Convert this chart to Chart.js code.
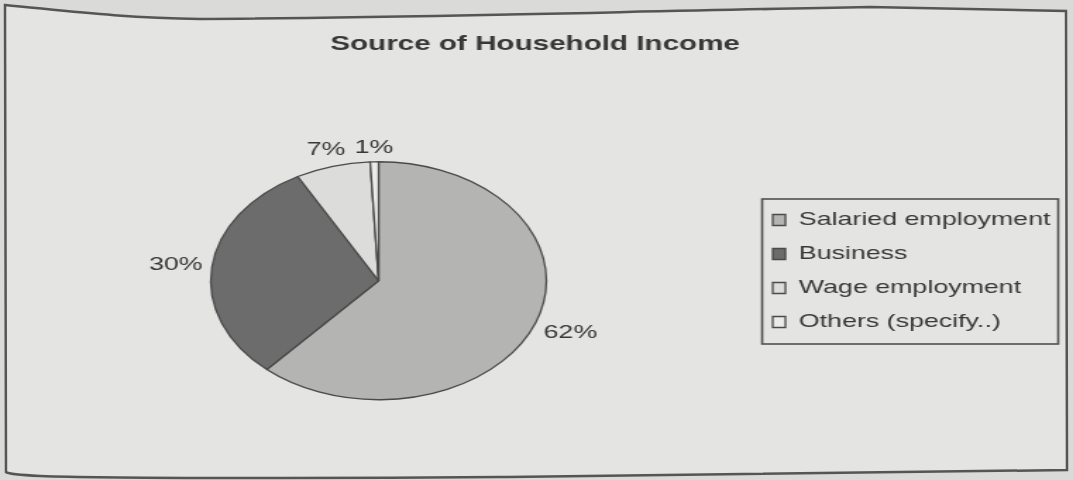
<!DOCTYPE html>
<html><head><meta charset="utf-8">
<script src="https://cdn.jsdelivr.net/npm/chart.js@4.4.0/dist/chart.umd.min.js"></script>
<style>
html,body{margin:0;padding:0;background:#dadad8;overflow:hidden;width:1073px;height:480px;}
#frame{position:absolute;left:0;top:0;}
#wrap{position:absolute;left:0;top:0;width:761px;height:480px;transform:scaleX(1.41);transform-origin:0 0;}
</style></head><body>
<svg id="frame" width="1073" height="480">
<path d="M5,5 C60,10 120,18 200,19 C400,18 600,12 870,7 L1066,11 L1067,470 C900,471 700,474 500,477 C300,479 100,478 40,476 C20,475 8,474 6,472 Z" fill="#e4e4e2" stroke="#555" stroke-width="2.5"/>
</svg>
<div id="wrap"><canvas id="c" width="761" height="480"></canvas></div>
<script>
const titleText = 'Source of Household Income';
const categories = ['Salaried employment', 'Business', 'Wage employment', 'Others (specify..)'];
const shares = [61.6, 30.4, 7.2, 0.8];
const sliceColors = ['#b4b4b2', '#6c6c6c', '#dcdcda', '#ebebe9'];

const textColor = '#383838';
const fontFamily = '"Liberation Sans", Arial, sans-serif';

const pctLabels = {
  id: 'pctLabels',
  afterDatasetsDraw(chart) {
    const ctx = chart.ctx;
    const meta = chart.getDatasetMeta(0);
    const data = chart.data.datasets[0].data;
    const total = data.reduce((a, b) => a + b, 0);
    ctx.save();
    ctx.font = '19px ' + fontFamily;
    ctx.fillStyle = textColor;
    ctx.textAlign = 'center';
    ctx.textBaseline = 'middle';
    meta.data.forEach((arc, i) => {
      const p = arc.getProps(['x', 'y', 'startAngle', 'endAngle', 'outerRadius'], true);
      const mid = (p.startAngle + p.endAngle) / 2;
      const txt = Math.round(data[i] / total * 100) + '%';
      const hw = ctx.measureText(txt).width / 2, hh = 8;
      const cx = Math.cos(mid), sy = Math.sin(mid);
      const d = p.outerRadius + 6 + hw * Math.abs(cx) + hh * Math.abs(sy);
      ctx.fillText(txt, p.x + cx * d, p.y + sy * d);
    });
    ctx.restore();
  }
};

const legendFrame = {
  id: 'legendFrame',
  afterDraw(chart) {
    const lg = chart.legend;
    if (!lg) return;
    const pad = lg.options.labels.padding;
    const itemH = Math.max(lg.options.labels.font.size, lg.options.labels.boxHeight);
    const n = lg.legendItems.length;
    const top = lg.top + pad - 11.5;
    const bottom = lg.top + pad + n * (itemH + pad) - pad + 12.5;
    const left = lg.left + pad - 7.5;
    const right = lg.right - 4.5;
    const ctx = chart.ctx;
    ctx.save();
    ctx.strokeStyle = '#505050';
    ctx.lineWidth = 1.6;
    ctx.strokeRect(left, top, right - left, bottom - top);
    ctx.restore();
  }
};

new Chart(document.getElementById('c'), {
  type: 'pie',
  data: {
    labels: categories,
    datasets: [{
      data: shares,
      backgroundColor: sliceColors,
      borderColor: '#4a4a4a',
      borderWidth: 1.3
    }]
  },
  options: {
    responsive: false,
    animation: false,
    events: [],
    devicePixelRatio: 1,
    radius: 119,
    layout: { padding: { left: 4, right: 6, top: 0, bottom: 114 } },
    plugins: {
      title: {
        display: true,
        text: titleText,
        color: textColor,
        font: { family: fontFamily, size: 21, weight: 'bold', lineHeight: 1.2 },
        padding: { top: 32, bottom: 138.3 }
      },
      legend: {
        position: 'right',
        align: 'start',
        fullSize: false,
        labels: {
          color: textColor,
          font: { family: fontFamily, size: 19 },
          boxWidth: 9,
          boxHeight: 11,
          padding: 15
        }
      },
      tooltip: { enabled: false }
    }
  },
  plugins: [pctLabels, legendFrame]
});
</script>
</body></html>
